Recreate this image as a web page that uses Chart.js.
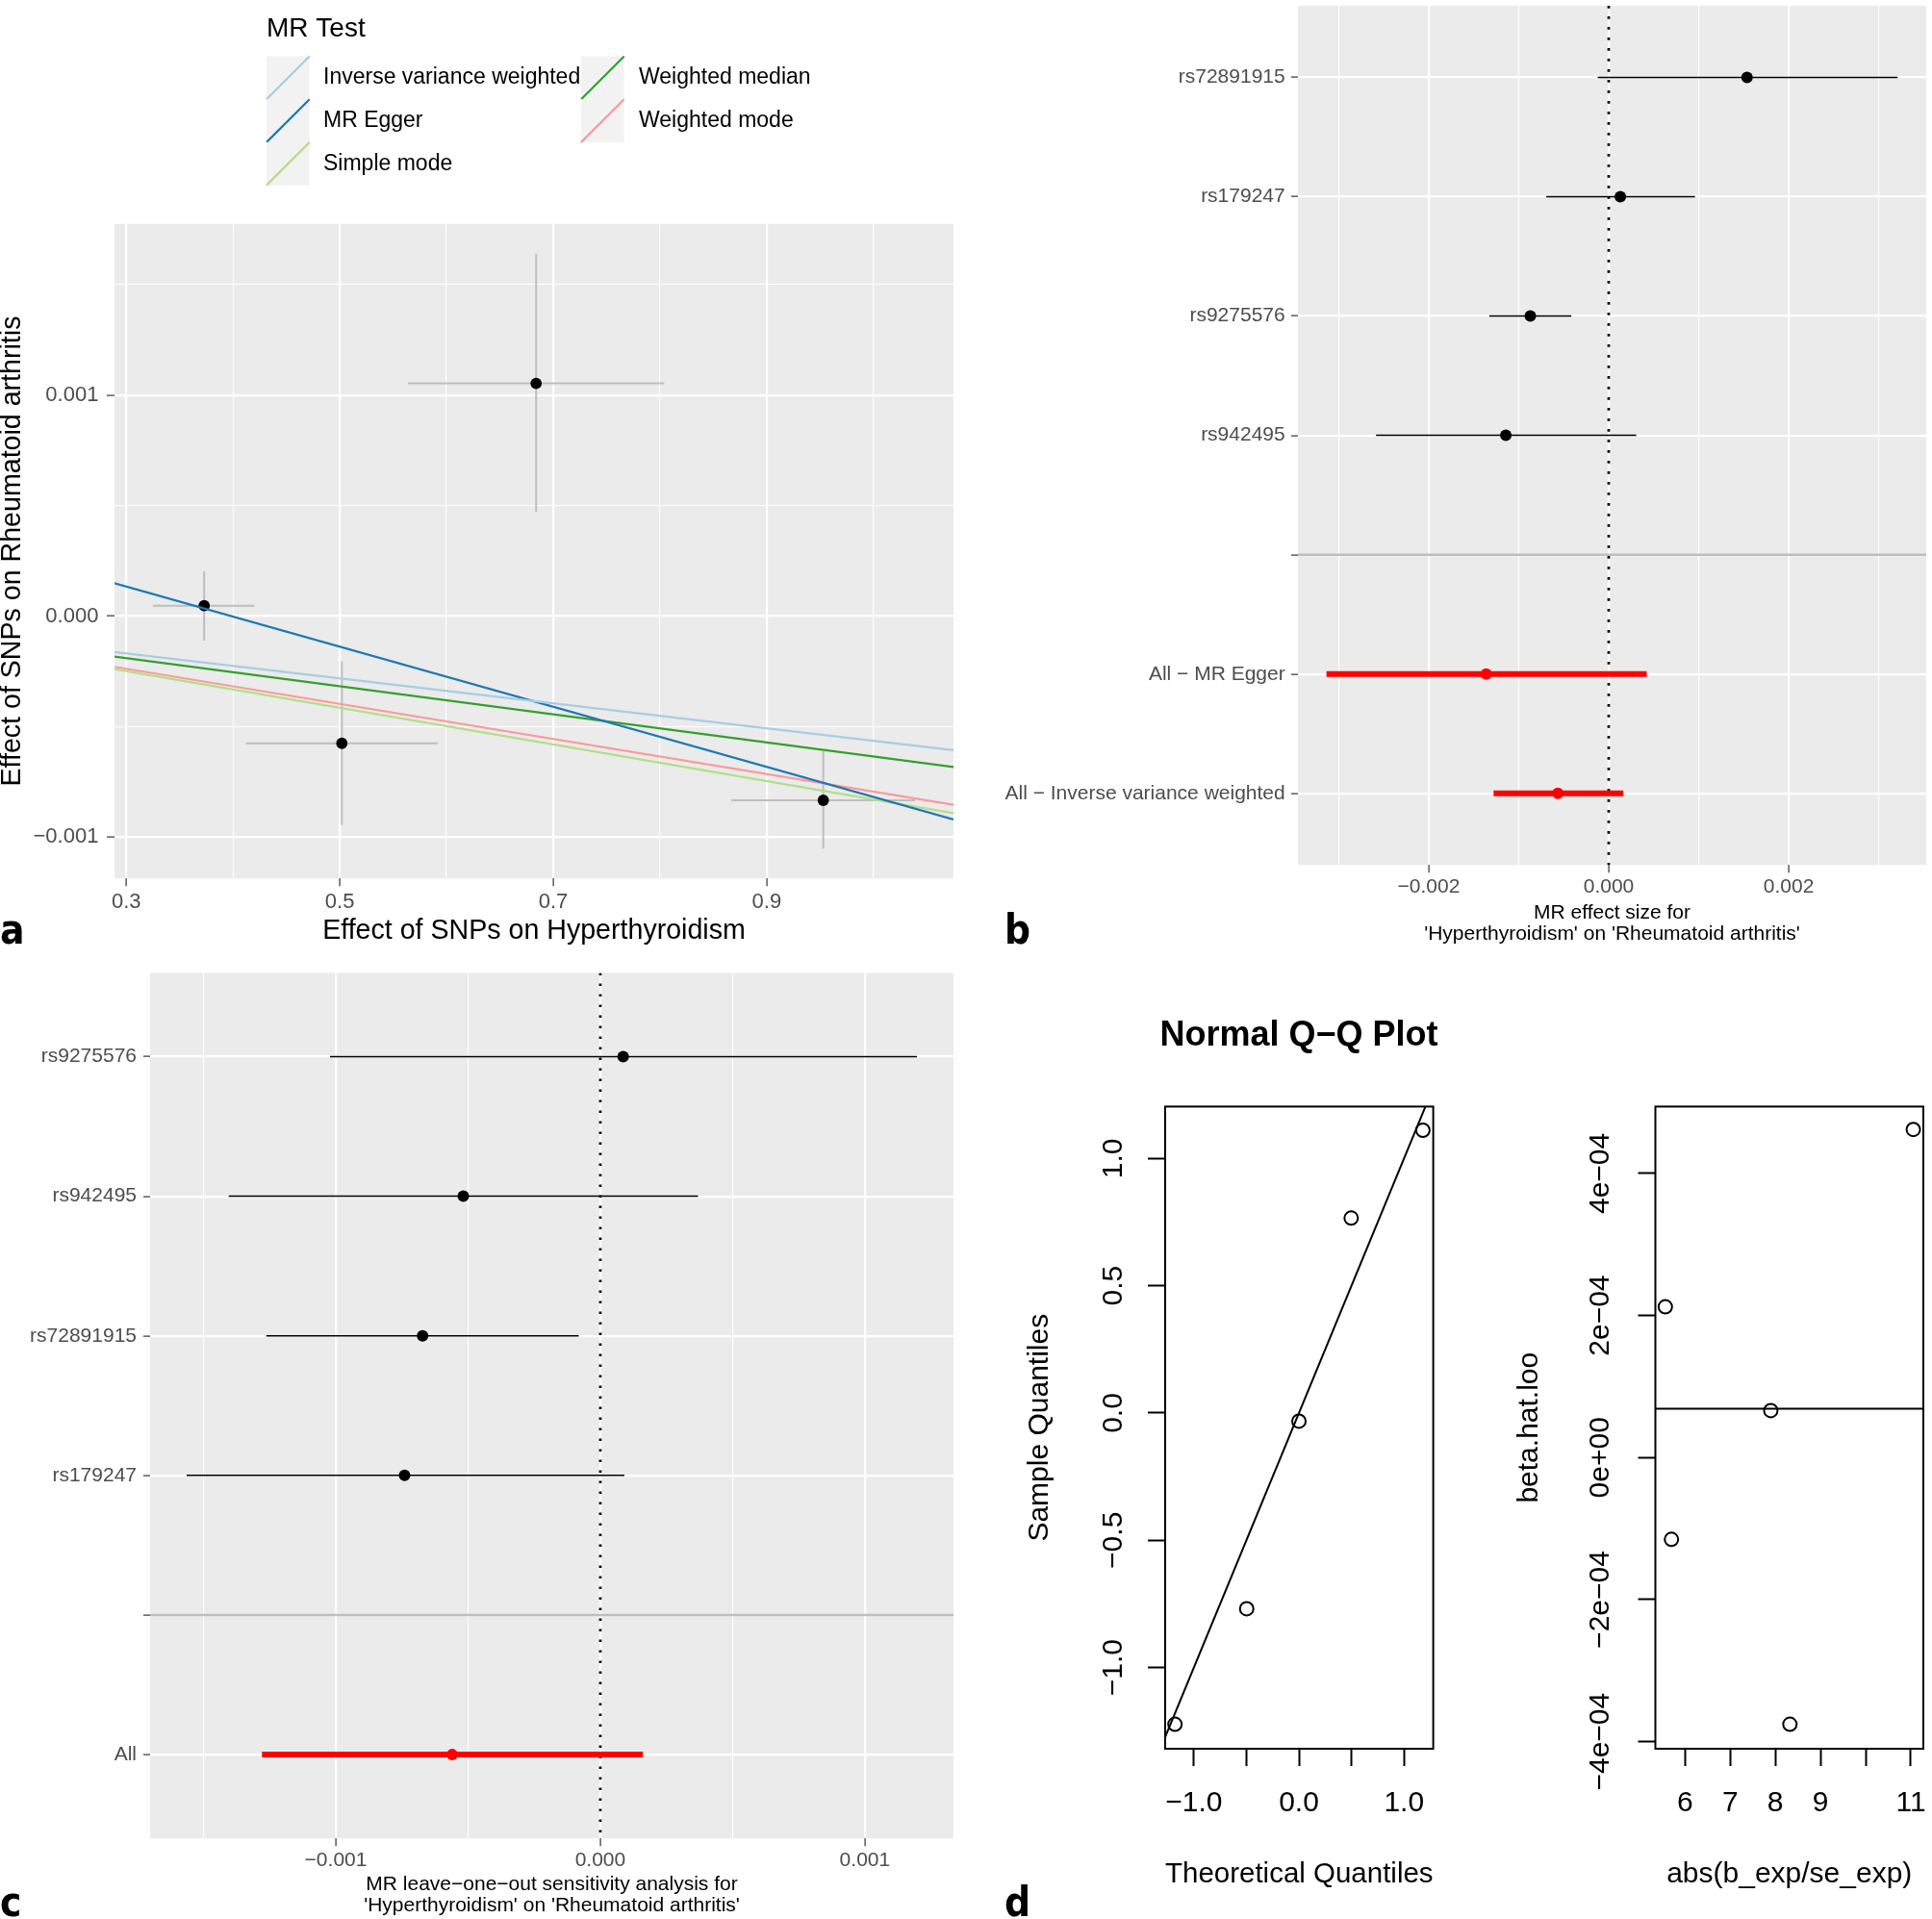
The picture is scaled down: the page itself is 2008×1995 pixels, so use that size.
<!DOCTYPE html>
<html>
<head>
<meta charset="utf-8">
<script src="https://cdn.jsdelivr.net/npm/chart.js@4.4.1/dist/chart.umd.min.js"></script>
<style>
  html, body { margin: 0; padding: 0; background: #fff; }
  body { width: 2008px; height: 1995px; position: relative; overflow: hidden; }
  canvas { position: absolute; }
  .tag { position: absolute; font: 700 42px "Liberation Sans Narrow", "DejaVu Sans Condensed", sans-serif; line-height: 42px; color: #000; }
  #qqTitle { position: absolute; left: 1150px; width: 400px; top: 1057px; text-align: center;
             font: 700 36px "Liberation Sans", Arial, sans-serif; line-height: 36px; color: #000; }
</style>
</head>
<body>
<canvas id="pa" width="1004" height="1000" style="left:0;top:0"></canvas>
<canvas id="pb" width="1004" height="1000" style="left:1004px;top:0"></canvas>
<canvas id="pc" width="1004" height="995" style="left:0;top:1000px"></canvas>
<canvas id="pd1" width="556" height="995" style="left:1004px;top:1000px"></canvas>
<canvas id="pd2" width="448" height="995" style="left:1560px;top:1000px"></canvas>
<div class="tag" style="left:0;top:946px">a</div>
<div class="tag" style="left:1044px;top:946px">b</div>
<div class="tag" style="left:0;top:1957px">c</div>
<div class="tag" style="left:1044px;top:1957px">d</div>
<div id="qqTitle">Normal Q−Q Plot</div>
<script>
// panel a: SNP effects on exposure / outcome
const snpExpBeta = [0.373, 0.502, 0.684, 0.953];
const snpExpLo   = [0.325, 0.412, 0.564, 0.867];
const snpExpHi   = [0.420, 0.592, 0.804, 1.039];
const snpOutBeta = [0.000047, -0.000576, 0.001053, -0.000834];
const snpOutLo   = [-0.000111, -0.000945, 0.000471, -0.001053];
const snpOutHi   = [0.000202, -0.000205, 0.00164, -0.000612];

const mrMethods   = ['Inverse variance weighted', 'MR Egger', 'Simple mode', 'Weighted median', 'Weighted mode'];
const mrColors    = ['#a6cee3', '#1f78b4', '#b2df8a', '#33a02c', '#fb9a99'];
const mrIntercept = [0, 0.000542, 0, 0, 0];
const mrSlope     = [-0.000565, -0.001361, -0.00083, -0.000636, -0.000795];

const aXRange = [0.289, 1.075];
const aYRange = [-0.001188, 0.001775];
const aXTicks = [0.3, 0.4, 0.5, 0.6, 0.7, 0.8, 0.9, 1.0];
const aXTickText = ['0.3', '', '0.5', '', '0.7', '', '0.9', ''];
const aYTicks = [-0.001, -0.0005, 0, 0.0005, 0.001, 0.0015];
const aYTickText = ['−0.001', '', '0.000', '', '0.001', ''];

// panel b: single SNP forest plot
const bLabels  = ['rs72891915', 'rs179247', 'rs9275576', 'rs942495', '', 'All − MR Egger', 'All − Inverse variance weighted'];
const bEst     = [0.001537, 0.000129, -0.000871, -0.001143, null, -0.001361, -0.000565];
const bLo      = [-0.000122, -0.000694, -0.001327, -0.002585, null, -0.003136, -0.001279];
const bHi      = [0.003211, 0.000959, -0.000415, 0.000306, null, 0.000422, 0.000163];
const bSummary = [false, false, false, false, false, true, true];
const bXRange  = [-0.003453, 0.003528];
const bXTicks  = [-0.003, -0.002, -0.001, 0, 0.001, 0.002, 0.003];
const bXTickText = ['', '−0.002', '', '0.000', '', '0.002', ''];

// panel c: leave-one-out
const cLabels  = ['rs9275576', 'rs942495', 'rs72891915', 'rs179247', '', 'All'];
const cEst     = [0.0000863, -0.000518, -0.000672, -0.00074, null, -0.00056];
const cLo      = [-0.001022, -0.001405, -0.001263, -0.001564, null, -0.001279];
const cHi      = [0.001197, 0.000369, -0.0000817, 0.000091, null, 0.000161];
const cSummary = [false, false, false, false, false, true];
const cXRange  = [-0.001702, 0.001335];
const cXTicks  = [-0.0015, -0.001, -0.0005, 0, 0.0005, 0.001];
const cXTickText = ['', '−0.001', '', '0.000', '', '0.001'];

// panel d: normal Q-Q and beta.hat.loo
const qqTheo   = [-1.1798, -0.4972, 0, 0.4972, 1.1798];
const qqSample = [-1.223, -0.769, -0.032, 0.766, 1.111];
const qqLineIntercept = 0;
const qqLineSlope = 1;
const qqXRange = [-1.273, 1.278];
const qqYRange = [-1.319, 1.204];
const qqXTicks = [-1, -0.5, 0, 0.5, 1];
const qqXTickText = ['−1.0', '', '0.0', '', '1.0'];
const qqYTicks = [-1, -0.5, 0, 0.5, 1];
const qqYTickText = ['−1.0', '−0.5', '0.0', '0.5', '1.0'];

const looX = [5.563, 5.699, 7.899, 8.322, 11.055];
const looY = [0.0002122, -0.0001151, 0.0000662, -0.0003755, 0.0004619];
const looRef = 0.0000687;
const looXRange = [5.343, 11.277];
const looYRange = [-0.0004099, 0.0004941];
const looXTicks = [6, 7, 8, 9, 10, 11];
const looXTickText = ['6', '7', '8', '9', '', '11'];
const looYTicks = [-0.0004, -0.0002, 0, 0.0002, 0.0004];
const looYTickText = ['−4e−04', '−2e−04', '0e+00', '2e−04', '4e−04'];

Chart.defaults.font.family = '"Liberation Sans", Arial, Helvetica, sans-serif';
Chart.defaults.animation = false;
Chart.defaults.responsive = false;
Chart.defaults.events = [];
Chart.defaults.plugins.legend.display = false;
Chart.defaults.plugins.tooltip.enabled = false;

// fixed axis box sizes so plot areas land where the figure has them
const fixBox = size => s => {
    if (s.isHorizontal()) s.height = size; else s.width = size;
    s.paddingLeft = s.paddingRight = s.paddingTop = s.paddingBottom = 0;
};
const setTicks = vals => s => { s.ticks = vals.map(v => ({ value: v })); };
const seg = (pts, color, width, order, extra) => Object.assign({
    data: pts, showLine: true, borderColor: color, backgroundColor: color,
    borderWidth: width, pointRadius: 0, borderCapStyle: 'butt', order: order
}, extra || {});

const panelBg = {
    id: 'panelBg',
    beforeDraw(chart, args, o) {
        if (!o.color) return;
        const a = chart.chartArea, ctx = chart.ctx;
        ctx.save();
        ctx.fillStyle = o.color;
        ctx.fillRect(a.left, a.top, a.right - a.left, a.bottom - a.top);
        ctx.restore();
    }
};
const panelBox = {
    id: 'panelBox',
    afterDraw(chart, args, o) {
        if (!o.width) return;
        const a = chart.chartArea, ctx = chart.ctx;
        ctx.save();
        ctx.strokeStyle = '#000';
        ctx.lineWidth = o.width;
        ctx.strokeRect(a.left, a.top, a.right - a.left, a.bottom - a.top);
        ctx.restore();
    }
};
const mrLegend = {
    id: 'mrLegend',
    afterDraw(chart) {
        const ctx = chart.ctx;
        const keyX = [277, 604], textX = [336, 664], top = 58.5, key = 44.7;
        ctx.save();
        ctx.fillStyle = '#000';
        ctx.textBaseline = 'middle';
        ctx.font = '28px "Liberation Sans", Arial, sans-serif';
        ctx.fillText('MR Test', 277, 30.5);
        ctx.font = '23px "Liberation Sans", Arial, sans-serif';
        mrMethods.forEach((m, i) => {
            const c = Math.floor(i / 3), r = i % 3;
            const x = keyX[c], y = top + r * key;
            ctx.fillStyle = '#f2f2f2';
            ctx.fillRect(x, y, key, key);
            ctx.strokeStyle = mrColors[i];
            ctx.lineWidth = 2.2;
            ctx.beginPath();
            ctx.moveTo(x, y + key);
            ctx.lineTo(x + key, y);
            ctx.stroke();
            ctx.fillStyle = '#000';
            ctx.fillText(m, textX[c], y + key / 2);
        });
        ctx.restore();
    }
};

// ggplot-like axis
function ggAxis(range, ticks, text, size, tickPad, fontSize, extra) {
    return Object.assign({
        type: 'linear', min: range[0], max: range[1],
        afterBuildTicks: setTicks(ticks), afterFit: fixBox(size),
        border: { display: false },
        grid: {
            color: '#ffffff',
            lineWidth: c => text[c.index] ? 2.2 : 1.1,
            tickLength: 8, tickWidth: 1.2,
            tickColor: c => text[c.index] ? '#333333' : 'rgba(0,0,0,0)'
        },
        ticks: { autoSkip: false, maxRotation: 0, padding: tickPad, color: '#4d4d4d',
                 font: { size: fontSize }, callback: (v, i) => text[i] }
    }, extra || {});
}

// ---- panel a ----
(function () {
    const sets = [];
    snpExpBeta.forEach((bx, i) => {
        sets.push(seg([{ x: bx, y: snpOutLo[i] }, { x: bx, y: snpOutHi[i] }], '#bebebe', 2, 3));
        sets.push(seg([{ x: snpExpLo[i], y: snpOutBeta[i] }, { x: snpExpHi[i], y: snpOutBeta[i] }], '#bebebe', 2, 3));
    });
    sets.push({ data: snpExpBeta.map((bx, i) => ({ x: bx, y: snpOutBeta[i] })),
                pointRadius: 5.9, pointBackgroundColor: '#000', pointBorderColor: '#000', pointBorderWidth: 0, order: 2 });
    mrMethods.forEach((m, i) => {
        sets.push(seg(aXRange.map(x => ({ x: x, y: mrIntercept[i] + mrSlope[i] * x })), mrColors[i], 2.2, 1));
    });
    new Chart(document.getElementById('pa'), {
        type: 'scatter',
        data: { datasets: sets },
        options: {
            layout: { padding: { top: 232.8, right: 13, bottom: 0, left: 0 } },
            plugins: { panelBg: { color: '#ebebeb' } },
            scales: {
                x: ggAxis(aXRange, aXTicks, aXTickText, 86.7, 3, 22, {
                    title: { display: true, text: 'Effect of SNPs on Hyperthyroidism', color: '#000',
                             font: { size: 28.6 }, padding: { top: 0, bottom: 15 } }
                }),
                y: ggAxis(aYRange, aYTicks, aYTickText, 119, 8.6, 22, {
                    title: { display: true, text: 'Effect of SNPs on Rheumatoid arthritis', color: '#000',
                             font: { size: 28.6 }, padding: { top: -4, bottom: 0 } }
                })
            }
        },
        plugins: [panelBg, mrLegend]
    });
})();

// ---- panels b and c ----
function forest(id, labels, est, lo, hi, summary, xRange, xTicks, xTickText, title, g) {
    const n = labels.length;
    const sets = [];
    sets.push(seg([{ x: 0, y: 0.4 }, { x: 0, y: n + 0.6 }], '#000', 2.7, 3, { borderDash: [2.7, 8.3] }));
    est.forEach((b, i) => {
        if (b === null) return;
        sets.push(seg([{ x: lo[i], y: i + 1 }, { x: hi[i], y: i + 1 }],
                      summary[i] ? '#ff0000' : '#000', summary[i] ? 6 : 1.5, 2));
    });
    const idx = est.map((b, i) => i).filter(i => est[i] !== null);
    sets.push({ data: idx.map(i => ({ x: est[i], y: i + 1 })), pointRadius: 6,
                pointBackgroundColor: idx.map(i => summary[i] ? '#ff0000' : '#000'),
                pointBorderColor: idx.map(i => summary[i] ? '#ff0000' : '#000'),
                pointBorderWidth: 0, order: 1 });
    const sep = labels.indexOf('') + 1;
    sets.push(seg([{ x: xRange[0], y: sep }, { x: xRange[1], y: sep }], '#bebebe', 2.5, 0));

    return new Chart(document.getElementById(id), {
        type: 'scatter',
        data: { datasets: sets },
        options: {
            layout: { padding: { top: g.padTop, right: g.padRight, bottom: 0, left: 0 } },
            plugins: { panelBg: { color: '#ebebeb' } },
            scales: {
                x: ggAxis(xRange, xTicks, xTickText, g.xHeight, g.xTickPad, 21, {
                    title: { display: true, text: title, color: '#000',
                             font: { size: 21, lineHeight: 1.05 }, padding: { top: 0, bottom: g.titlePad } }
                }),
                y: {
                    type: 'linear', reverse: true, min: 0.4, max: n + 0.6,
                    afterBuildTicks: setTicks(labels.map((l, i) => i + 1)), afterFit: fixBox(g.yWidth),
                    border: { display: false },
                    grid: { color: '#ffffff', lineWidth: 2.2, tickLength: 7, tickWidth: 1.2, tickColor: '#333333' },
                    ticks: { autoSkip: false, padding: g.yTickPad, color: '#4d4d4d', font: { size: 21 },
                             callback: v => labels[v - 1] }
                }
            }
        },
        plugins: [panelBg]
    });
}

forest('pb', bLabels, bEst, bLo, bHi, bSummary, bXRange, bXTicks, bXTickText,
       ['MR effect size for', "'Hyperthyroidism' on 'Rheumatoid arthritis'"],
       { padTop: 0, padRight: 2, yWidth: 345, xHeight: 100.8, yTickPad: 6.3, xTickPad: 2.7, titlePad: 17.9 });

forest('pc', cLabels, cEst, cLo, cHi, cSummary, cXRange, cXTicks, cXTickText,
       ['MR leave−one−out sensitivity analysis for', "'Hyperthyroidism' on 'Rheumatoid arthritis'"],
       { padTop: 11.4, padRight: 13, yWidth: 156, xHeight: 83.8, yTickPad: 7, xTickPad: 2, titlePad: 2.5 });

// ---- panel d (base R style) ----
function baseAxis(range, ticks, text, size, tickPad, title, titlePad, vertical) {
    const ax = {
        type: 'linear', min: range[0], max: range[1],
        afterBuildTicks: setTicks(ticks), afterFit: fixBox(size),
        border: { display: false },
        grid: { drawOnChartArea: false, tickLength: 18, tickWidth: 2, tickColor: '#000' },
        ticks: { autoSkip: false, padding: tickPad, color: '#000', font: { size: 30 },
                 callback: (v, i) => text[i] },
        title: { display: true, text: title, color: '#000', font: { size: 30 }, padding: titlePad }
    };
    if (vertical) {
        ax.ticks.minRotation = 90;
        ax.ticks.maxRotation = 90;
        ax.ticks.crossAlign = 'center';
    } else {
        ax.ticks.maxRotation = 0;
    }
    return ax;
}

new Chart(document.getElementById('pd1'), {
    type: 'scatter',
    data: { datasets: [
        { data: qqTheo.map((q, i) => ({ x: q, y: qqSample[i] })), pointRadius: 7,
          pointBackgroundColor: 'rgba(0,0,0,0)', pointBorderColor: '#000', pointBorderWidth: 2, order: 1 },
        seg(qqXRange.map(x => ({ x: x, y: qqLineIntercept + qqLineSlope * x })), '#000', 2, 2)
    ] },
    options: {
        layout: { padding: { top: 150.4, right: 70.4, bottom: 0, left: 0 } },
        plugins: { panelBox: { width: 2 } },
        scales: {
            x: baseAxis(qqXRange, qqXTicks, qqXTickText, 177, 20.4, 'Theoretical Quantiles', { top: 0, bottom: 28.3 }, false),
            y: baseAxis(qqYRange, qqYTicks, qqYTickText, 207, 5.7, 'Sample Quantiles', { top: 58.8, bottom: 0 }, true)
        }
    },
    plugins: [panelBox]
});

new Chart(document.getElementById('pd2'), {
    type: 'scatter',
    data: { datasets: [
        { data: looX.map((v, i) => ({ x: v, y: looY[i] })), pointRadius: 7,
          pointBackgroundColor: 'rgba(0,0,0,0)', pointBorderColor: '#000', pointBorderWidth: 2, order: 1 },
        seg(looXRange.map(x => ({ x: x, y: looRef })), '#000', 2, 2)
    ] },
    options: {
        layout: { padding: { top: 150.4, right: 8.4, bottom: 0, left: 0 } },
        plugins: { panelBox: { width: 2 } },
        scales: {
            x: baseAxis(looXRange, looXTicks, looXTickText, 177, 20.4, 'abs(b_exp/se_exp)', { top: 0, bottom: 28.3 }, false),
            y: baseAxis(looYRange, looYTicks, looYTickText, 160.5, -11.9, 'beta.hat.loo', { top: 12, bottom: 0 }, true)
        }
    },
    plugins: [panelBox]
});
</script>
</body>
</html>
